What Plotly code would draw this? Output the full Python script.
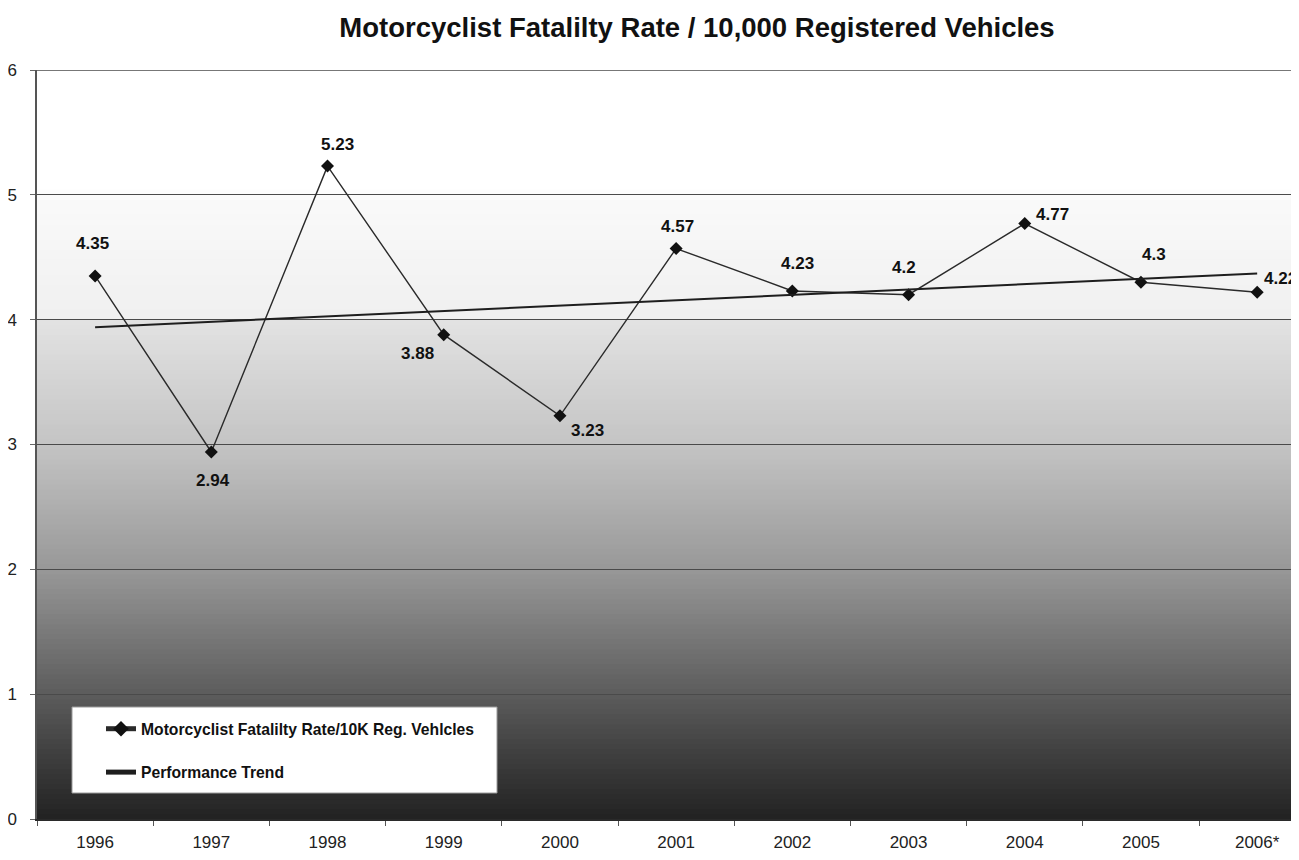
import numpy as np
import plotly.graph_objects as go

# ---- data ----
years = ["1996", "1997", "1998", "1999", "2000", "2001", "2002", "2003", "2004", "2005", "2006*"]
rates = [4.35, 2.94, 5.23, 3.88, 3.23, 4.57, 4.23, 4.2, 4.77, 4.3, 4.22]
rate_labels = ["4.35", "2.94", "5.23", "3.88", "3.23", "4.57", "4.23", "4.2", "4.77", "4.3", "4.22"]
trend_years = ["1996", "2006*"]
trend_values = [3.94, 4.37]
y_ticks = [0, 1, 2, 3, 4, 5, 6]

# ---- styling (label offsets in px: x right, y up) ----
label_dx = [-3, 2, 10, -26, 28, 1, 5, -5, 28, 13, 23]
label_dy = [32, -29, 22, -19, -15, 22, 27, 27, 9, 28, 14]

FONT = "Liberation Sans, Arial, sans-serif"
OFF = 8                      # page body margin of the html page
W, H = 1299 - OFF, 860 - OFF
L, R, T, B = 37 - OFF, 0, 70 - OFF, 41
GRID = "#4a4a4a"

fig = go.Figure()

fig.add_trace(go.Scatter(
    x=years, y=rates, mode="lines+markers",
    name="<b>Motorcyclist Fatalilty Rate/10K Reg. Vehlcles</b>",
    line=dict(color="#2a2a2a", width=1.4),
    marker=dict(symbol="diamond", size=10, color="#111111"),
    legendgroup="a",
))
fig.add_trace(go.Scatter(
    x=trend_years, y=trend_values, mode="lines",
    name="<b>Performance Trend</b>",
    line=dict(color="#1e1e1e", width=2),
    legendgroup="b",
))

# gradient background bands
stops_y = [0.0, 0.5, 1.0, 2.0, 3.0, 3.98, 4.02, 5.0, 5.05, 6.0]
stops_c = [34, 62, 92, 152, 196, 226, 240, 250, 255, 255]
shapes = []
n = 150
edges = np.linspace(0, 6, n + 1)
for i in range(n):
    mid = (edges[i] + edges[i + 1]) / 2
    g = int(round(np.interp(mid, stops_y, stops_c)))
    top = min(edges[i + 1] + 0.03, 6)
    shapes.append(dict(type="rect", xref="paper", yref="y", x0=0, x1=1,
                       y0=edges[i], y1=top,
                       fillcolor=f"rgb({g},{g},{g})", line=dict(width=0),
                       layer="below"))
# top gridline at the range end
shapes.append(dict(type="line", xref="paper", yref="y", x0=0, x1=1,
                   y0=y_ticks[-1], y1=y_ticks[-1],
                   line=dict(color=GRID, width=1.5), layer="below"))

# helpers: reference screen pixels -> paper coords
pw = 1299 - 37
ph = 819 - 70
def px_x(p):
    return (p - 37) / pw
def px_y(p):
    return (819 - p) / ph

shapes.append(dict(type="rect", xref="paper", yref="paper",
                   x0=px_x(72), x1=px_x(497), y0=px_y(793), y1=px_y(707),
                   fillcolor="white", line=dict(color="#9a9a9a", width=1),
                   layer="above"))

annotations = []
for i, (v, t, dx, dy) in enumerate(zip(rates, rate_labels, label_dx, label_dy)):
    annotations.append(dict(x=i, y=v, xref="x", yref="y",
                            text="<b>" + t + "</b>", showarrow=False,
                            xshift=dx, yshift=dy,
                            font=dict(family=FONT, size=17, color="#111111"),
                            xanchor="center", yanchor="middle"))

fig.update_layout(
    width=W, height=H,
    margin=dict(l=L, r=R, t=T, b=B, pad=0),
    paper_bgcolor="white",
    plot_bgcolor="rgba(0,0,0,0)",
    title=dict(text="<b>Motorcyclist Fatalilty Rate / 10,000 Registered Vehicles</b>",
               x=(697 - OFF) / W, xref="container", xanchor="center",
               y=1 - (27 - OFF) / H, yref="container", yanchor="middle",
               font=dict(family=FONT, size=27.5, color="#111111")),
    shapes=shapes,
    annotations=annotations,
    showlegend=True,
    legend=dict(x=px_x(101), y=px_y(712), xanchor="left", yanchor="top",
                bgcolor="rgba(0,0,0,0)", borderwidth=0,
                tracegroupgap=20,
                font=dict(family=FONT, size=15.7, color="#111111"),
                itemsizing="constant"),
    font=dict(family=FONT, color="#222222"),
)

fig.update_xaxes(
    type="category", categoryorder="array", categoryarray=years,
    range=[-0.5, 10.36],
    showgrid=False, zeroline=False,
    showline=True, linecolor="#2a2a2a", linewidth=1.5,
    ticks="outside", tickson="boundaries", ticklen=5, tickcolor="#555555",
    tickfont=dict(family=FONT, size=17, color="#222222"),
    ticklabelstandoff=7,
)
fig.update_yaxes(
    range=[0, 6], tickvals=y_ticks,
    showgrid=True, gridcolor=GRID, gridwidth=1.2,
    zeroline=False,
    showline=True, linecolor="#555555", linewidth=1.5,
    ticks="outside", ticklen=5, tickcolor="#666666",
    tickfont=dict(family=FONT, size=17, color="#222222"),
    ticklabelstandoff=10,
)

fig.write_html("out.html")
